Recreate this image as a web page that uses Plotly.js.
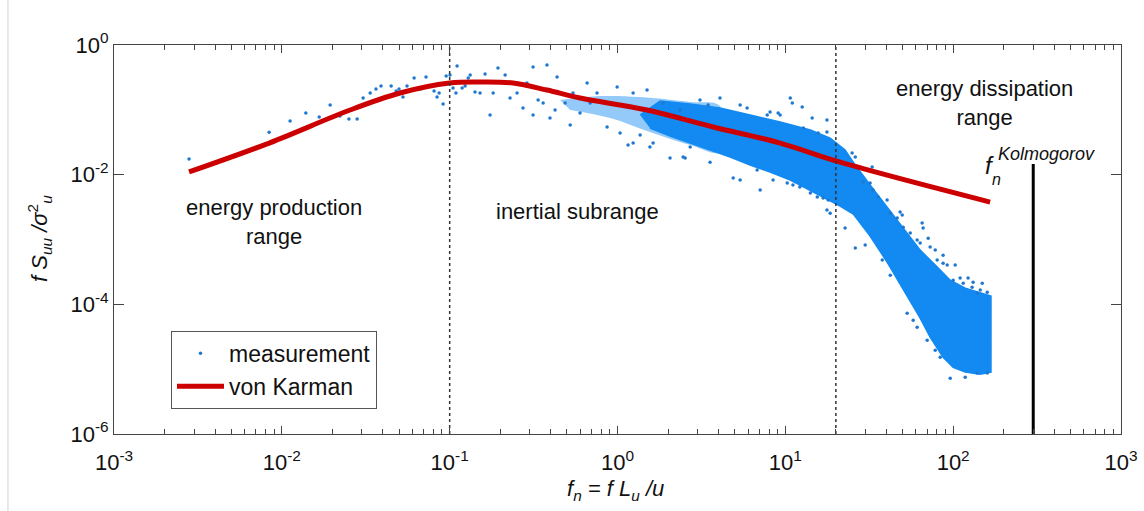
<!DOCTYPE html>
<html>
<head>
<meta charset="utf-8">
<script src="https://cdn.plot.ly/plotly-3.0.1.min.js"></script>
<style>html,body{margin:0;padding:0;background:#fff;}#chart{width:1144px;height:511px;}</style>
</head>
<body>
<div id="chart"></div>
<script>
// ---- data ----
// scattered measurement points (f_n, fS/sigma^2)
const measX = [0.0028,0.0084,0.0112,0.0139,0.0167,0.0194,0.0222,0.0251,0.0281,0.0305,
  0.0336,0.0364,0.039,0.0448,0.048,0.0499,0.0527,0.0557,0.0614,0.0667,
  0.0723,0.0807,0.0841,0.0865,0.0914,0.0953,0.1005,0.1047,0.109,0.1107,
  0.1186,0.1236,0.129,0.1325,0.1416,0.1517,0.1625,0.174,0.1816,0.194,
  0.214,0.229,0.252,0.2735,0.289,0.314,0.314,0.3365,0.3606,0.38,
  0.396,0.4246,0.4365,0.4875,0.5224,0.543,0.598,0.659,0.687,0.755,
  0.867,0.995,1.036,1.156,1.239,1.364,1.50,1.63,1.87,2.056,
  2.36,2.53,2.71,3.467,4.08,4.89,5.38,5.92,6.79,7.8,
  9.06,10.7,11.0,12.6,11.1,17.7,17.7,1.239,7.08,12.8,
  15.7,17.7,18.5,14.1,9.31,25.0,26.1,32.9,32.0,40.4,
  48.3,49.7,65.3,66.2,71.0,63.6,78.2,87.1,102.8,87.1,
  110,122.7,131.5,149,145,159.6,26.1,22.7,29.9,37.8,
  42.2,53.2,57.8,61.0,70.0,78.2,83.7,96,118,139,
  159.6,18.0,16.8,
  80.3,92.1,100,114.8,129.7,139,72.9,61.0,55.5,50.4,
  46.4,42.2,35.7,33.3,29.1,
  1.56,2.46,3.56,8.45,10.26,12.2,15.5,
  3.10,5.38,8.11,14.45];
const measY = [0.0174,0.045,0.0672,0.0893,0.0774,0.1186,0.0802,0.0721,0.0721,0.152,
  0.1816,0.2094,0.2329,0.233,0.195,0.209,0.1577,0.233,0.31,0.209,
  0.321,0.195,0.158,0.1816,0.123,0.332,0.344,0.217,0.1816,0.474,
  0.217,0.233,0.31,0.344,0.188,0.1816,0.357,0.0832,0.1816,0.4416,
  0.344,0.152,0.1816,0.1066,0.259,0.4575,0.0832,0.1416,0.1273,0.491,
  0.0747,0.0993,0.321,0.1273,0.0582,0.1816,0.0893,0.259,0.1273,0.1816,
  0.0543,0.225,0.0439,0.0286,0.1816,0.0409,0.202,0.0307,0.1273,0.018,
  0.0993,0.018,0.0267,0.1186,0.152,0.00887,0.00826,0.1066,0.01178,0.0832,
  0.0893,0.152,0.1273,0.1104,0.00691,0.0696,0.0454,0.0307,0.00578,0.0524,
  0.0439,0.00284,0.00255,0.0052,0.0832,0.0216,0.0187,0.0131,0.00742,0.00406,
  0.00265,0.00238,0.00179,0.0015,0.00105,0.00088,0.000686,0.000574,0.000403,0.000432,
  0.000254,0.000254,0.00022,0.000212,0.000166,0.000154,0.000737,0.0015,0.00082,0.000481,
  0.000282,7.31e-5,5.7e-5,4.45e-5,2.8e-5,1.96e-5,1.53e-5,7.26e-6,7.53e-6,8.7e-6,
  8.7e-6,0.00406,0.00435,
  4.81e-4,4.03e-4,2.36e-4,2.12e-4,1.84e-4,1.49e-4,7.63e-4,9.79e-4,1.26e-3,1.55e-3,
  2.14e-3,2.55e-3,4.51e-3,5.78e-3,7.69e-3,
  0.0267,0.0187,0.0156,8.26e-3,7.42e-3,6.44e-3,4.51e-3,
  0.142,0.1186,0.0925,0.0747];

// outline of the saturated part of the measurement cloud
const coreX = [1.364,1.795,2.71,4.08,6.17,9.31,14.1,18.5,22.7,26.1,32.0,40.4,51.8,63.6,78.2,96,118,145,168,
  168,145,118,100,87.1,72.9,63.6,51.8,40.4,32.0,25.4,21.2,17.3,14.1,10.7,8.11,6.17,4.69,3.56,2.71,2.056,1.56];
const coreY = [0.0832,0.1368,0.123,0.1066,0.0832,0.0648,0.0488,0.0367,0.024,0.01406,0.00691,0.00316,0.0014,6.85e-4,4.03e-4,2.36e-4,1.78e-4,1.49e-4,1.34e-4,
  9.0e-6,8.37e-6,9.0e-6,1.07e-5,1.53e-5,3.12e-5,6.12e-5,1.54e-4,4.48e-4,1.13e-3,2.47e-3,3.28e-3,4.35e-3,5.78e-3,8.26e-3,0.011,0.01406,0.0187,0.024,0.0307,0.0394,0.0524];
// outline of the looser part of the cloud (around f_n = 1)
const looseX = [0.455,0.787,1.364,2.71,4.08,4.08,2.71,1.56,0.904,0.5224];
const looseY = [0.1416,0.163,0.1577,0.132,0.1146,0.0223,0.0286,0.0454,0.0747,0.0993];

// von Karman spectrum
const karmanX = [0.0028,0.0084,0.0255,0.0506,0.1,0.152,0.239,0.38,0.598,1.50,3.715,9.31,21.2,166];
const karmanY = [0.011,0.0307,0.0993,0.1816,0.259,0.2685,0.259,0.202,0.152,0.0993,0.0543,0.0307,0.0156,0.00378];

// range boundaries and Kolmogorov frequency
const dividerX = [0.1, 20];
const kolmogorovX = 300;
const kolmogorovTop = 0.0146;

// axis ticks
const xTickVals = [1e-3,1e-2,1e-1,1,10,100,1000];
const xTickText = ['10<sup>-3</sup>','10<sup>-2</sup>','10<sup>-1</sup>','10<sup>0</sup>','10<sup>1</sup>','10<sup>2</sup>','10<sup>3</sup>'];
const yTickVals = [1e-6,1e-4,1e-2,1];
const yTickText = ['10<sup>-6</sup>','10<sup>-4</sup>','10<sup>-2</sup>','10<sup>0</sup>'];
const minorDigits = [2,3,4,5,6,7,8,9];

// ---- drawing ----
const FONT = 'Liberation Sans, Arial, Helvetica, sans-serif';
const xMinor = [];
xTickVals.slice(0, -1).forEach(d => minorDigits.forEach(m => xMinor.push(d * m)));

const BLUE = '#128af2';
const traces = [
  {x: looseX, y: looseY, type: 'scatter', mode: 'lines', fill: 'toself', opacity: 0.45,
   fillcolor: BLUE, line: {color: BLUE, width: 0, shape: 'spline'}, showlegend: false, hoverinfo: 'skip'},
  {x: coreX, y: coreY, type: 'scatter', mode: 'lines', fill: 'toself',
   fillcolor: BLUE, line: {color: BLUE, width: 1.5}, showlegend: false, hoverinfo: 'skip'},
  {x: measX, y: measY, type: 'scatter', mode: 'markers', name: 'measurement',
   marker: {color: '#1f78cf', size: 3.5}},
  {x: karmanX, y: karmanY, type: 'scatter', mode: 'lines', name: 'von Karman',
   line: {color: '#cc0000', width: 5, shape: 'spline'}},
  {x: [dividerX[0], dividerX[0], null, dividerX[1], dividerX[1]],
   y: [1e-6, 1, null, 1e-6, 1], type: 'scatter', mode: 'lines', showlegend: false,
   line: {color: '#333', width: 1.5, dash: 'dot'}, hoverinfo: 'skip'},
  {x: [kolmogorovX, kolmogorovX], y: [1e-6, kolmogorovTop], type: 'scatter', mode: 'lines',
   showlegend: false, line: {color: '#000', width: 3}, hoverinfo: 'skip'}
];

const axisCommon = {
  type: 'log', showline: true, linecolor: '#444', linewidth: 1, mirror: 'ticks',
  ticks: 'inside', tickcolor: '#444', tickwidth: 1, showgrid: false, zeroline: false,
  tickmode: 'array', tickfont: {family: FONT, size: 22, color: '#111'}
};

const layout = {
  width: 1144, height: 511,
  margin: {l: 114, r: 23, t: 45, b: 77},
  paper_bgcolor: '#fff', plot_bgcolor: '#fff',
  font: {family: FONT, color: '#111'},
  xaxis: Object.assign({}, axisCommon, {
    range: [-3, 3], tickvals: xTickVals, ticktext: xTickText, ticklen: 8, ticklabelstandoff: 9,
    minor: {tickmode: 'array', tickvals: xMinor, ticks: 'inside', ticklen: 5, tickcolor: '#444', showgrid: false}
  }),
  yaxis: Object.assign({}, axisCommon, {
    range: [-6, 0], tickvals: yTickVals, ticktext: yTickText, ticklen: 10
  }),
  showlegend: true,
  legend: {x: 0.0566, y: 0.265, xanchor: 'left', yanchor: 'top', bgcolor: '#fff',
    bordercolor: '#555', borderwidth: 1, font: {family: FONT, size: 23, color: '#111'},
    itemwidth: 47, tracegroupgap: 0},
  shapes: [
    {type: 'line', xref: 'paper', yref: 'paper', x0: -0.1053, x1: -0.1053, y0: -0.2, y1: 1.12,
     line: {color: '#d4d4d4', width: 1}}
  ],
  annotations: [
    {text: 'energy production<br>range', xref: 'paper', yref: 'paper', x: 0.1584, y: 0.545,
     xanchor: 'center', yanchor: 'middle', showarrow: false, font: {family: FONT, size: 22, color: '#111'}},
    {text: 'inertial subrange', xref: 'paper', yref: 'paper', x: 0.4603, y: 0.573,
     xanchor: 'center', yanchor: 'middle', showarrow: false, font: {family: FONT, size: 22, color: '#111'}},
    {text: 'energy dissipation<br>range', xref: 'paper', yref: 'paper', x: 0.864, y: 0.85,
     xanchor: 'center', yanchor: 'middle', showarrow: false, font: {family: FONT, size: 22, color: '#111'}},
    {text: '<i>f</i>', xref: 'paper', yref: 'paper', x: 0.869, y: 0.6915,
     xanchor: 'center', yanchor: 'middle', showarrow: false, font: {family: FONT, size: 24, color: '#111'}},
    {text: '<i>n</i>', xref: 'paper', yref: 'paper', x: 0.8765, y: 0.655,
     xanchor: 'center', yanchor: 'middle', showarrow: false, font: {family: FONT, size: 16, color: '#111'}},
    {text: '<i>Kolmogorov</i>', xref: 'paper', yref: 'paper', x: 0.876, y: 0.7198,
     xanchor: 'left', yanchor: 'middle', showarrow: false, font: {family: FONT, size: 18, color: '#111'}},
    {text: '<i>f</i><sub><i>n</i></sub><i> = f L</i><sub><i>u</i></sub><i> /u</i>', xref: 'paper', yref: 'paper',
     x: 0.4985, y: -0.143, xanchor: 'center', yanchor: 'middle', showarrow: false,
     font: {family: FONT, size: 22, color: '#111'}},
    {text: '<i>f S</i><sub><i>uu</i></sub><i> /σ</i><sup>2</sup><sub><i>u</i></sub>', xref: 'paper', yref: 'paper',
     x: -0.0735, y: 0.504, xanchor: 'center', yanchor: 'middle', textangle: -90, showarrow: false,
     font: {family: FONT, size: 22, color: '#111'}}
  ]
};

Plotly.newPlot('chart', traces, layout, {displayModeBar: false, staticPlot: true});
</script>
</body>
</html>
